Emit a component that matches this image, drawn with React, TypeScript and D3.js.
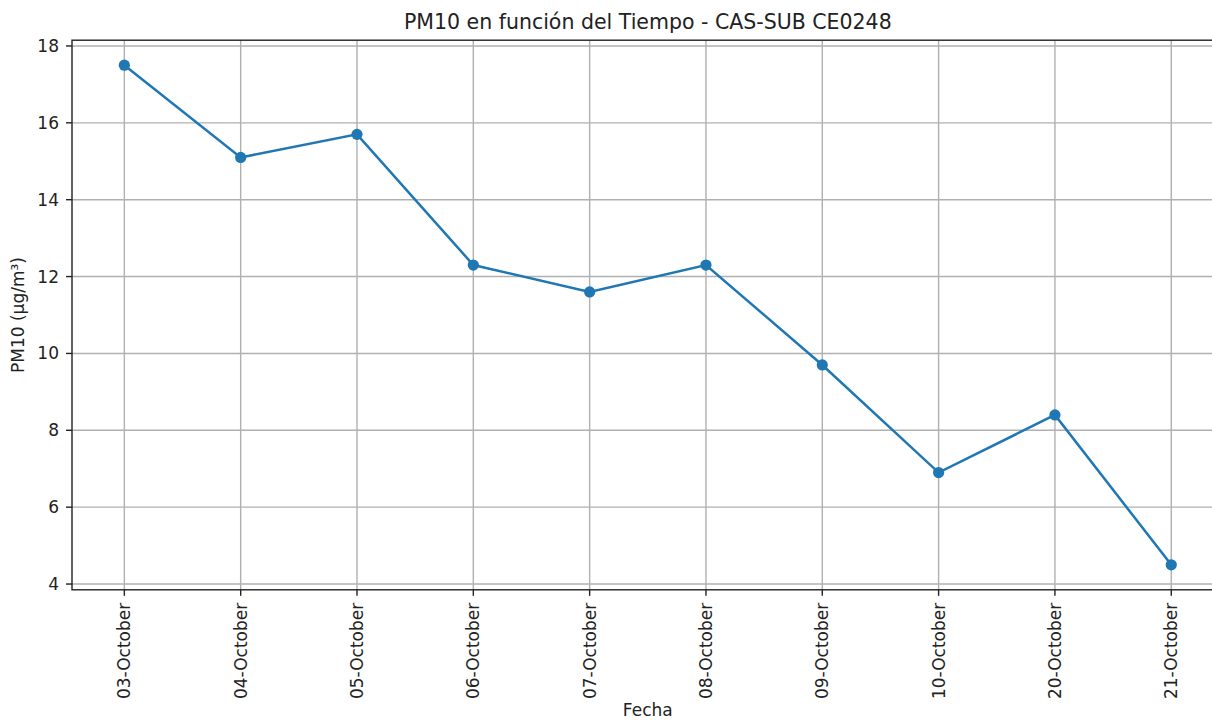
import React, { useEffect, useRef } from 'react';
import * as d3 from 'd3';

const fechas = ['03-October', '04-October', '05-October', '06-October', '07-October', '08-October', '09-October', '10-October', '20-October', '21-October'];
const pm10 = [17.5, 15.1, 15.7, 12.3, 11.6, 12.3, 9.7, 6.9, 8.4, 4.5];
const yTicks = [4, 6, 8, 10, 12, 14, 16, 18];

export default function App() {
  const ref = useRef<SVGSVGElement>(null);

  useEffect(() => {
    const width = 1212;
    const height = 720;
    const margin = { top: 40.2, left: 72, bottom: 589.8, right: 1223.6 };
    const font = 'DejaVu Sans, sans-serif';
    const tickSize = 17;

    const svg = d3.select(ref.current);
    svg.selectAll('*').remove();
    svg.attr('width', width).attr('height', height);

    svg.append('rect').attr('width', width).attr('height', height).attr('fill', '#fff');

    // x: categorical, 5% margins like matplotlib
    const n = fechas.length;
    const pad = (n - 1) * 0.05;
    const x = d3.scaleLinear().domain([-pad, n - 1 + pad]).range([margin.left, margin.right]);
    const y = d3.scaleLinear().domain([3.85, 18.15]).range([margin.bottom, margin.top]);

    // grid
    const grid = svg.append('g');
    fechas.forEach((_, i) => {
      grid.append('line')
        .attr('x1', x(i)).attr('x2', x(i))
        .attr('y1', margin.top).attr('y2', margin.bottom)
        .attr('stroke', '#b0b0b0').attr('stroke-width', 1.4);
    });
    yTicks.forEach(t => {
      grid.append('line')
        .attr('x1', margin.left).attr('x2', margin.right)
        .attr('y1', y(t)).attr('y2', y(t))
        .attr('stroke', '#b0b0b0').attr('stroke-width', 1.4);
    });

    // line + markers
    const line = d3.line<number>().x((_, i) => x(i)).y(d => y(d));
    svg.append('path')
      .datum(pm10)
      .attr('d', line)
      .attr('fill', 'none')
      .attr('stroke', '#1f77b4')
      .attr('stroke-width', 2.5);

    svg.append('g')
      .selectAll('circle')
      .data(pm10)
      .join('circle')
      .attr('cx', (_, i) => x(i))
      .attr('cy', d => y(d))
      .attr('r', 5.6)
      .attr('fill', '#1f77b4');

    // spines
    svg.append('rect')
      .attr('x', margin.left).attr('y', margin.top)
      .attr('width', margin.right - margin.left)
      .attr('height', margin.bottom - margin.top)
      .attr('fill', 'none').attr('stroke', '#222').attr('stroke-width', 1.4);

    // y ticks
    const yAx = svg.append('g');
    yTicks.forEach(t => {
      yAx.append('line')
        .attr('x1', margin.left - 6).attr('x2', margin.left)
        .attr('y1', y(t)).attr('y2', y(t))
        .attr('stroke', '#222').attr('stroke-width', 1.4);
      yAx.append('text')
        .attr('x', margin.left - 13).attr('y', y(t))
        .attr('dy', '0.35em')
        .attr('text-anchor', 'end')
        .attr('font-family', font).attr('font-size', tickSize)
        .attr('fill', '#222')
        .text(t);
    });

    // x ticks
    const xAx = svg.append('g');
    fechas.forEach((f, i) => {
      xAx.append('line')
        .attr('x1', x(i)).attr('x2', x(i))
        .attr('y1', margin.bottom).attr('y2', margin.bottom + 6)
        .attr('stroke', '#222').attr('stroke-width', 1.4);
      xAx.append('text')
        .attr('transform', `translate(${x(i)},${margin.bottom + 13}) rotate(-90)`)
        .attr('dy', '0.35em')
        .attr('text-anchor', 'end')
        .attr('font-family', font).attr('font-size', tickSize)
        .attr('fill', '#222')
        .text(f);
    });

    const cx = (margin.left + margin.right) / 2;

    svg.append('text')
      .attr('x', cx).attr('y', 29)
      .attr('text-anchor', 'middle')
      .attr('font-family', font).attr('font-size', 20.5)
      .attr('fill', '#222')
      .text('PM10 en función del Tiempo - CAS-SUB CE0248');

    svg.append('text')
      .attr('x', cx).attr('y', 716)
      .attr('text-anchor', 'middle')
      .attr('font-family', font).attr('font-size', tickSize)
      .attr('fill', '#222')
      .text('Fecha');

    svg.append('text')
      .attr('transform', `translate(24,${(margin.top + margin.bottom) / 2}) rotate(-90)`)
      .attr('text-anchor', 'middle')
      .attr('font-family', font).attr('font-size', tickSize)
      .attr('fill', '#222')
      .text('PM10 (µg/m³)');
  }, []);

  return (
    <svg ref={ref} style={{ position: 'absolute', left: 0, top: 0, display: 'block' }}></svg>
  );
}
